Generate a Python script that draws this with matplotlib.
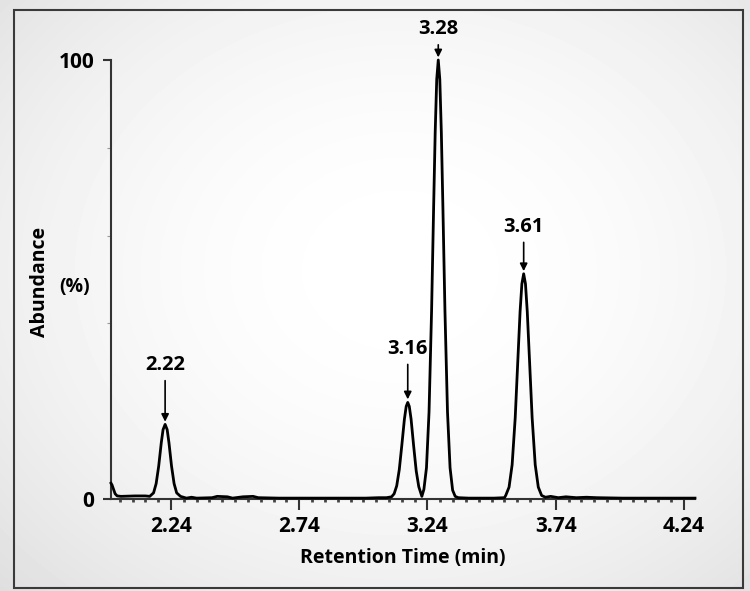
import numpy as np
import matplotlib.pyplot as plt
from matplotlib.patches import Rectangle

# trace: retention time (min) vs abundance (%)
rt_start = [2.006, 2.010, 2.016, 2.022, 2.030, 2.045, 2.100, 2.140]
ab_start = [3.6, 3.2, 2.2, 1.2, 0.7, 0.6, 0.7, 0.7]

rt_p1 = [2.157, 2.172, 2.182, 2.192, 2.202, 2.209, 2.217, 2.225, 2.232, 2.242, 2.252, 2.262, 2.277]
ab_p1 = [0.6, 1.4, 3.5, 7.5, 12.8, 15.8, 17.0, 15.8, 12.8, 7.5, 3.5, 1.4, 0.6]

rt_mid = [2.30, 2.32, 2.34, 2.40, 2.42, 2.46, 2.48, 2.52, 2.56, 2.58, 2.66, 2.80, 3.00, 3.05, 3.08]
ab_mid = [0.2, 0.4, 0.2, 0.3, 0.6, 0.5, 0.2, 0.5, 0.6, 0.3, 0.2, 0.2, 0.2, 0.3, 0.3]

rt_p23 = [3.100, 3.110, 3.120, 3.130, 3.140, 3.150, 3.157, 3.163, 3.169, 3.176, 3.186,
          3.196, 3.206, 3.218, 3.226, 3.236, 3.246, 3.256, 3.264, 3.270, 3.276, 3.282,
          3.288, 3.294, 3.300, 3.308, 3.318, 3.328, 3.338, 3.348, 3.360]
ab_p23 = [0.5, 1.2, 3.0, 6.7, 12.3, 18.2, 21.1, 22.0, 21.1, 18.2, 12.1,
          6.4, 2.8, 0.6, 2.2, 7.1, 19.8, 43.0, 66.7, 83.5, 95.6, 100.0,
          95.6, 83.5, 66.7, 43.0, 19.8, 7.1, 2.0, 0.6, 0.3]

rt_gap = [3.40, 3.50, 3.54]
ab_gap = [0.2, 0.2, 0.3]

rt_p4 = [3.545, 3.558, 3.570, 3.582, 3.592, 3.601, 3.608, 3.615, 3.622, 3.629,
         3.638, 3.648, 3.660, 3.672, 3.685]
ab_p4 = [0.8, 2.7, 7.8, 18.5, 31.3, 42.7, 49.0, 51.3, 49.0, 42.7,
         31.3, 18.5, 7.8, 2.7, 0.8]

rt_end = [3.70, 3.72, 3.75, 3.78, 3.82, 3.86, 3.90, 4.00, 4.283]
ab_end = [0.4, 0.6, 0.3, 0.5, 0.3, 0.4, 0.3, 0.2, 0.2]

# peak labels: (label, time, apex, text height)
peak_names = ["2.22", "3.16", "3.28", "3.61"]
peak_rt = [2.217, 3.163, 3.282, 3.615]
peak_top = [17.6, 22.7, 100.6, 51.9]
label_y = [30.5, 34.2, 107.0, 62.0]

xticks = [2.24, 2.74, 3.24, 3.74, 4.24]

rt = rt_start + rt_p1 + rt_mid + rt_p23 + rt_gap + rt_p4 + rt_end
ab = ab_start + ab_p1 + ab_mid + ab_p23 + ab_gap + ab_p4 + ab_end

plt.rcParams['font.family'] = ['Open Sans', 'DejaVu Sans']
plt.rcParams['font.weight'] = 'bold'

W, H = 750, 591
fig = plt.figure(figsize=(7.5, 5.91), dpi=100)

# radial gradient background
bg = fig.add_axes([0, 0, 1, 1], zorder=-10)
yy, xx = np.mgrid[0:H, 0:W]
r = np.sqrt(((xx - 400) / 430.0) ** 2 + ((yy - 270) / 350.0) ** 2)
shade = 1.0 - 0.075 * np.clip(r, 0, 1.3) ** 2
bg.imshow(shade, cmap='gray', vmin=0, vmax=1, extent=[0, W, H, 0], aspect='auto')
bg.add_patch(Rectangle((14, 10), 729, 578, fill=False, edgecolor='#3a3a3a', lw=1.5))
bg.set_xlim(0, W)
bg.set_ylim(H, 0)
bg.axis('off')

ax = fig.add_axes([111 / W, 1 - 499 / H, (695 - 111) / W, (499 - 60) / H])
ax.patch.set_alpha(0)
ax.plot(rt, ab, color='black', lw=2.0, clip_on=False, zorder=3)

ax.set_xlim(2.006, 4.283)
ax.set_ylim(0, 100)
for s in ['top', 'right']:
    ax.spines[s].set_visible(False)
for s in ['left', 'bottom']:
    ax.spines[s].set_color('#333333')
    ax.spines[s].set_linewidth(1.5)

ax.set_xticks(xticks)
ax.set_xticklabels([f"{t:.2f}" for t in xticks])
ax.set_xticks(np.arange(2.04, 4.28, 0.05), minor=True)
ax.set_yticks([0, 100])
ax.set_yticks([40, 60, 80], minor=True)
ax.tick_params(axis='x', which='major', direction='out', length=8, width=1.5,
               color='#333333', labelsize=15, pad=4)
ax.tick_params(axis='x', which='minor', direction='out', length=2.5, width=2.0,
               color='#444444')
ax.tick_params(axis='y', which='major', direction='out', length=6, width=1.5,
               color='#333333', labelsize=15, pad=6)
ax.tick_params(axis='y', which='minor', direction='out', length=3, width=0.8,
               color='#999999')

ax.set_xlabel("Retention Time (min)", fontsize=14, fontweight='bold', labelpad=8)
fig.text(40 / W, 1 - 282 / H, "Abundance", rotation=90, ha='center', va='center',
         fontsize=14, fontweight='bold')
fig.text(75 / W, 1 - 287 / H, "(%)", ha='center', va='center',
         fontsize=14, fontweight='bold')

for name, x, top, ty in zip(peak_names, peak_rt, peak_top, label_y):
    ax.annotate(name, xy=(x, top), xytext=(x, ty), ha='center', va='center',
                fontsize=14.5, fontweight='bold', annotation_clip=False,
                arrowprops=dict(arrowstyle='-|>', color='black', lw=1.2,
                                mutation_scale=11, shrinkA=2, shrinkB=0))

fig.savefig('out.png', dpi=100)
